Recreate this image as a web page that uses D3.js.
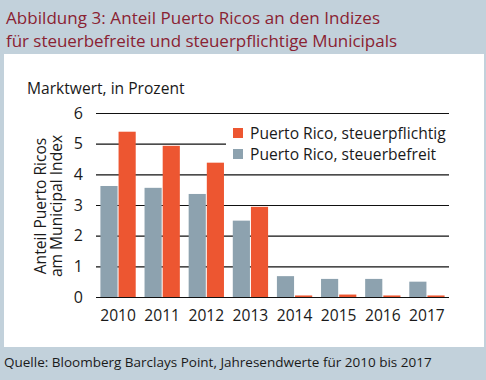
<!DOCTYPE html>
<html><head><meta charset="utf-8">
<script src="https://cdn.jsdelivr.net/npm/d3@7"></script>
<style>html,body{margin:0;padding:0;background:#c2d1db;}svg{display:block;}</style>
</head><body>
<script>
const years = ["2010","2011","2012","2013","2014","2015","2016","2017"];
const befreit = [3.62, 3.56, 3.36, 2.49, 0.68, 0.59, 0.59, 0.50];
const pflichtig = [5.39, 4.93, 4.38, 2.94, 0.05, 0.08, 0.05, 0.05];
const yTicks = [0,1,2,3,4,5,6];
const seriesNames = ["Puerto Rico, steuerpflichtig","Puerto Rico, steuerbefreit"];
const colors = {pflichtig:"#ed5631", befreit:"#8da2af"};

const W=486,H=380;
const font="'Open Sans', 'Noto Sans', sans-serif";
const svg=d3.select("body").append("svg").attr("width",W).attr("height",H);
svg.append("rect").attr("width",W).attr("height",H).attr("fill","#c2d1db");
svg.append("rect").attr("x",4).attr("y",54).attr("width",480).attr("height",293).attr("fill","#fff");

const title=svg.append("text").attr("font-family",font).attr("font-size",17).attr("fill","#8a2232");
title.append("tspan").attr("x",6).attr("y",24).attr("textLength",374).text("Abbildung 3: Anteil Puerto Ricos an den Indizes");
title.append("tspan").attr("x",6).attr("y",47).attr("textLength",391).text("für steuerbefreite und steuerpflichtige Municipals");

svg.append("text").attr("x",27).attr("y",94).attr("font-family",font).attr("font-size",15.6).attr("fill","#1a1a1a").text("Marktwert, in Prozent");

const x=d3.scaleBand().domain(years).range([96,449]).paddingInner(0.2).paddingOuter(0.1);
const y=d3.scaleLinear().domain([0,6]).range([297,113]);

const grid=svg.append("g");
grid.selectAll("line").data(yTicks).join("line")
  .attr("x1",96).attr("x2",449).attr("y1",d=>y(d)+0.5).attr("y2",d=>y(d)+0.5)
  .attr("stroke","#111").attr("stroke-width",1.1);

// legend background covering part of gridline
svg.append("rect").attr("x",226).attr("y",122).attr("width",224).attr("height",44).attr("fill","#fff");

const bw=x.bandwidth()/2;
svg.append("g").selectAll("rect").data(years).join("rect")
  .attr("x",d=>x(d)).attr("width",bw-0.5)
  .attr("y",(d,i)=>y(befreit[i])).attr("height",(d,i)=>y(0)-y(befreit[i]))
  .attr("fill",colors.befreit);
svg.append("g").selectAll("rect").data(years).join("rect")
  .attr("x",d=>x(d)+bw+0.5).attr("width",bw-0.5)
  .attr("y",(d,i)=>y(pflichtig[i])).attr("height",(d,i)=>y(0)-y(pflichtig[i]))
  .attr("fill",colors.pflichtig);

// y tick labels
svg.append("g").selectAll("text").data(yTicks).join("text")
  .attr("x",83).attr("y",d=>y(d)+5.8).attr("text-anchor","end")
  .attr("font-family",font).attr("font-size",16).attr("fill","#1a1a1a").text(d=>d);
// x labels
svg.append("g").selectAll("text").data(years).join("text")
  .attr("x",d=>x(d)+x.bandwidth()/2).attr("y",321).attr("text-anchor","middle")
  .attr("font-family",font).attr("font-size",15.6).attr("fill","#1a1a1a").text(d=>d);

// y axis title
const yt=svg.append("text").attr("transform","translate(0,206) rotate(-90)")
  .attr("font-family",font).attr("font-size",15.6).attr("fill","#1a1a1a").attr("text-anchor","middle");
yt.append("tspan").attr("x",0).attr("y",46).text("Anteil Puerto Ricos");
yt.append("tspan").attr("x",0).attr("y",62).text("am Municipal Index");

// legend
const lg=svg.append("g");
const lc=[colors.pflichtig,colors.befreit];
seriesNames.forEach((n,i)=>{
  lg.append("rect").attr("x",233).attr("y",128+i*21).attr("width",10).attr("height",10).attr("fill",lc[i]);
  lg.append("text").attr("x",250).attr("y",138.5+i*21).attr("font-family",font).attr("font-size",15.6).attr("fill","#1a1a1a").text(n);
});

svg.append("text").attr("x",4).attr("y",367).attr("font-family",font).attr("font-size",13.5).attr("fill","#1a1a1a")
  .text("Quelle: Bloomberg Barclays Point, Jahresendwerte für 2010 bis 2017");
</script>
</body></html>
